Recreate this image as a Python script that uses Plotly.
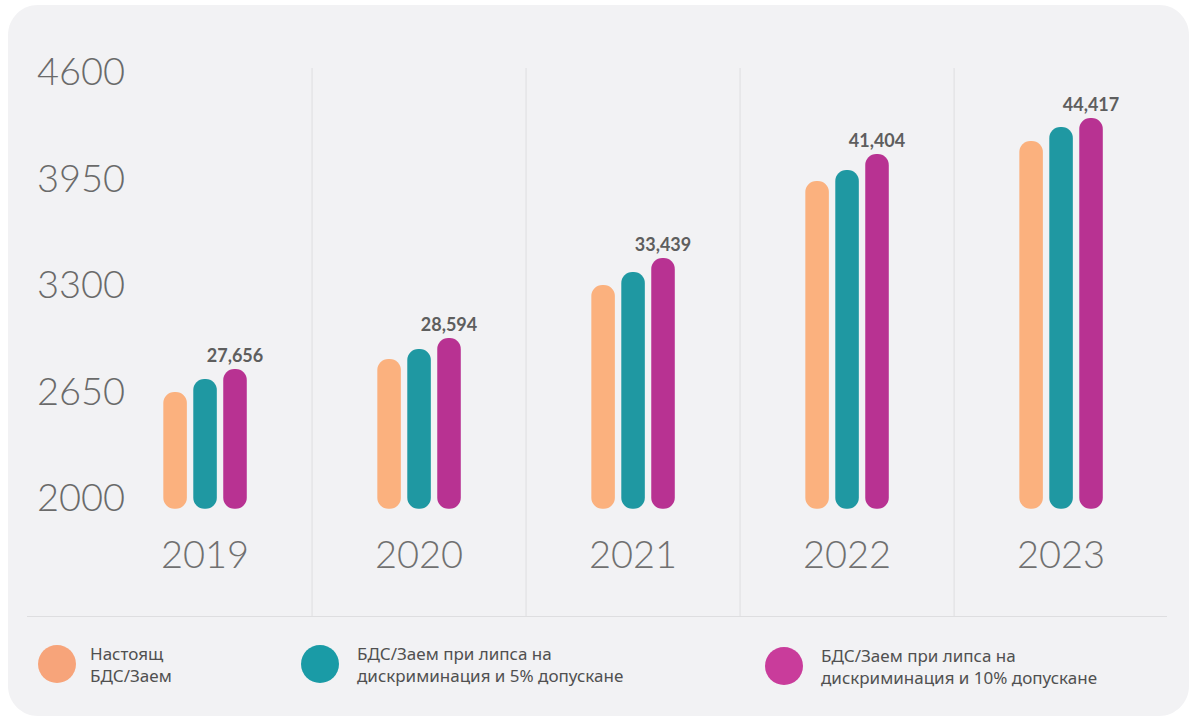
import plotly.graph_objects as go

# ---------------- data ----------------
years = ["2019", "2020", "2021", "2022", "2023"]
current = [2647, 2848, 3300, 3935, 4179]
no_disc_5 = [2726, 2909, 3379, 4002, 4264]
no_disc_10 = [2787, 2977, 3465, 4099, 4319]
top_labels = ["27,656", "28,594", "33,439", "41,404", "44,417"]
series_names = [
    "Настоящ<br>БДС/Заем",
    "БДС/Заем при липса на<br>дискриминация и 5% допускане",
    "БДС/Заем при липса на<br>дискриминация и 10% допускане",
]
y_ticks = [2000, 2650, 3300, 3950, 4600]

# ---------------- style ----------------
bar_colors = ["#FBB17E", "#1F98A2", "#B83292"]
legend_colors = ["#F7A47A", "#1A9BA6", "#C93C9B"]
BAR_FLOOR = 1935     # where the rounded bottom cap ends
SEP_TOP = 4624       # top of the vertical separators
BAR_W = 0.11
centers = [-0.14, 0.0, 0.14]

# plot-area pixel geometry
PL, PR, PT, PB = 27, 1167, 40, 616
W, H = PR - PL, PB - PT


def px2x(p):
    return (p - PL) / W


def py2y(p):
    return (PB - p) / H


fig = go.Figure()
all_series = [current, no_disc_5, no_disc_10]
for k, (vals, col) in enumerate(zip(all_series, bar_colors)):
    off = centers[k] - BAR_W / 2
    fig.add_trace(go.Bar(
        x=years, y=[v - BAR_FLOOR for v in vals], base=[BAR_FLOOR] * len(years),
        width=BAR_W, offset=off, marker=dict(color=col, line=dict(width=0), cornerradius="50%"),
        name=series_names[k].replace("<br>", " "),
        hovertext=[str(v) for v in vals], hoverinfo="text",
        text=top_labels if k == 2 else None,
        textposition="outside" if k == 2 else "none",
        constraintext="none",
        textfont=dict(family="Lato", size=18, weight=700, color="#5e5e5e"),
        cliponaxis=False, showlegend=False,
    ))

shapes = []
# rounded panel background
L, T, R, B, r = 8, 5, 1189, 716, 30
c = 0.5523 * r


def P(xp, yp):
    return f"{px2x(xp):.5f},{py2y(yp):.5f}"


path = (
    f"M {P(L + r, T)} L {P(R - r, T)} C {P(R - r + c, T)} {P(R, T + r - c)} {P(R, T + r)} "
    f"L {P(R, B - r)} C {P(R, B - r + c)} {P(R - r + c, B)} {P(R - r, B)} "
    f"L {P(L + r, B)} C {P(L + r - c, B)} {P(L, B - r + c)} {P(L, B - r)} "
    f"L {P(L, T + r)} C {P(L, T + r - c)} {P(L + r - c, T)} {P(L + r, T)} Z"
)
shapes.append(dict(type="path", path=path, xref="paper", yref="paper",
                   fillcolor="#F2F2F4", line=dict(width=0), layer="below"))
# vertical separators between years
for i in range(len(years) - 1):
    shapes.append(dict(type="line", xref="x", yref="y", x0=i + 0.5, x1=i + 0.5, y0=1000, y1=SEP_TOP,
                       line=dict(color="#DEDEE0", width=1), layer="below"))

# custom legend
legend_pos = [(57, 664, 88), (320, 664, 355), (784, 666, 819)]
annotations = []
for (cx, cy, tx), col, name in zip(legend_pos, legend_colors, series_names):
    rr = 19
    shapes.append(dict(type="circle", xref="paper", yref="paper",
                       x0=px2x(cx - rr), x1=px2x(cx + rr), y0=py2y(cy + rr), y1=py2y(cy - rr),
                       fillcolor=col, line=dict(width=0)))
    annotations.append(dict(x=px2x(tx), y=py2y(cy), xref="paper", yref="paper", text=name,
                            showarrow=False, xanchor="left", yanchor="middle", align="left",
                            font=dict(family="Noto Sans", size=17, color="#505050")))

fig.update_layout(
    width=1191, height=719,
    margin=dict(l=PL, r=1191 - PR, t=PT, b=719 - PB),
    paper_bgcolor="white", plot_bgcolor="rgba(0,0,0,0)",
    barmode="overlay", showlegend=False,
    font=dict(family="Lato", color="#666666"),
    shapes=shapes, annotations=annotations,
    xaxis=dict(type="category", range=[-0.832, 4.495], showgrid=False, zeroline=False,
               showline=True, linecolor="#DEDEE0", linewidth=1, ticks="",
               ticklabelposition="inside", ticklabelstandoff=45,
               tickfont=dict(family="Lato", size=38, weight=300, color="#707070")),
    yaxis=dict(range=[1280, 4795], tickvals=y_ticks, ticktext=[str(v) for v in y_ticks],
               showgrid=False, zeroline=False, showline=False, ticks="",
               ticklabelposition="inside", ticklabelstandoff=7,
               tickfont=dict(family="Lato", size=38, weight=300, color="#6a6a6a")),
)

fig.write_html("out.html", post_script="document.body.style.margin='0';",
               config={"displayModeBar": False})
